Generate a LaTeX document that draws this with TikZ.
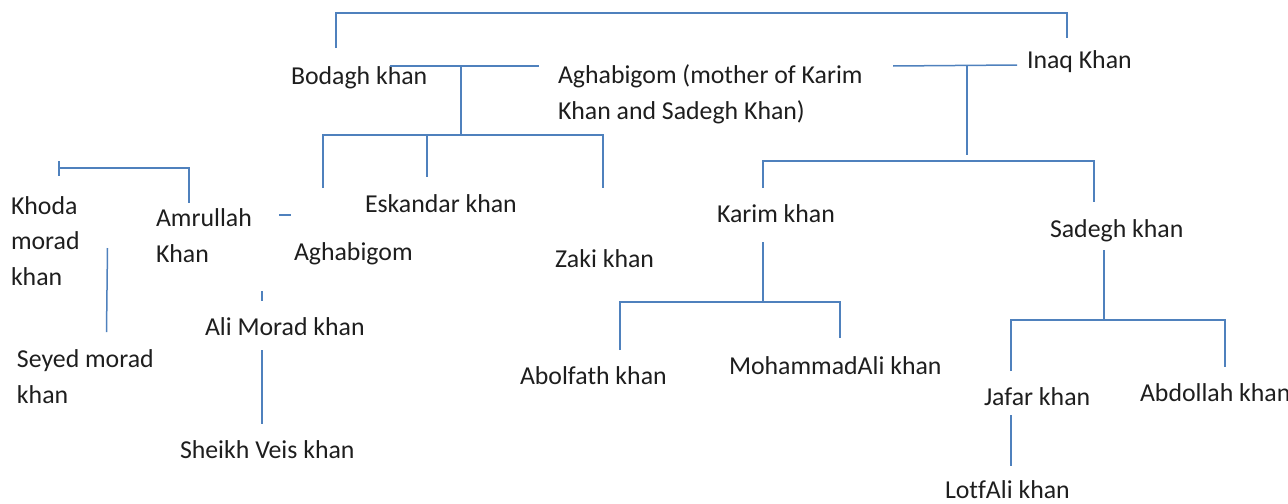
\documentclass[tikz,border=0pt]{standalone}
\usepackage{fontspec}
\setmainfont{Carlito}[Ligatures={NoCommon}]
\definecolor{linkblue}{RGB}{79,129,189}
\definecolor{txt}{RGB}{30,30,30}
\begin{document}
\begin{tikzpicture}[x=0.5pt,y=-0.5pt,
  person/.style={anchor=base west,inner sep=0pt,outer sep=0pt,align=left,text=txt,
    font=\fontsize{12.9}{17.6}\selectfont},
  link/.style={draw=linkblue,line width=0.75pt}]
\useasboundingbox (0,0) rectangle (1288,503);
% people (multi-line nodes: base = last line)
\node[person] (bodagh) at (291,84) {Bodagh khan};
\node[person] (aghamother) at (558,119) {Aghabigom (mother of Karim\\Khan and Sadegh Khan)};
\node[person] (inaq) at (1027,68) {Inaq Khan};
\node[person] (khoda) at (11,285) {Khoda\\morad\\khan};
\node[person] (amrullah) at (156,262) {Amrullah\\Khan};
\node[person] (aghabigom) at (294,260) {Aghabigom};
\node[person] (eskandar) at (365,212) {Eskandar khan};
\node[person] (zaki) at (555,267) {Zaki khan};
\node[person] (karim) at (717,222) {Karim khan};
\node[person] (sadegh) at (1050,237) {Sadegh khan};
\node[person] (alimorad) at (205,335) {Ali Morad khan};
\node[person] (seyed) at (17,403) {Seyed morad\\khan};
\node[person] (sheikh) at (180,458) {Sheikh Veis khan};
\node[person] (abolfath) at (520,384) {Abolfath khan};
\node[person] (mohammadali) at (729,374) {MohammadAli khan};
\node[person] (jafar) at (984,405) {Jafar khan};
\node[person] (abdollah) at (1140,401) {Abdollah khan};
\node[person] (lotfali) at (945,498) {LotfAli khan};
% top bracket
\coordinate (tl) at (336,13); \coordinate (tr) at (1067,13);
\coordinate (tlb) at (336,48); \coordinate (trb) at (1067,38);
\draw[link] (tlb) -- (tl) -- (tr) -- (trb);
% Bodagh + Aghabigom marriage
\coordinate (m1a) at (390,66); \coordinate (m1b) at (539,66); \coordinate (m1c) at (461,66);
\coordinate (m1d) at (461,135);
\draw[link] (m1a) -- (m1b);
\draw[link] (m1c) -- (m1d);
\coordinate (c1l) at (323,135); \coordinate (c1r) at (603,135);
\coordinate (c1lb) at (323,188); \coordinate (c1rb) at (603,188);
\coordinate (c1m) at (427,135); \coordinate (c1mb) at (427,177);
\draw[link] (c1lb) -- (c1l) -- (c1r) -- (c1rb);
\draw[link] (c1m) -- (c1mb);
% Aghabigom + Inaq marriage
\coordinate (m2a) at (893,66); \coordinate (m2b) at (1017,65); \coordinate (m2c) at (967,65.5);
\coordinate (m2d) at (967,155);
\draw[link] (m2a) -- (m2b);
\draw[link] (m2c) -- (m2d);
\coordinate (c2l) at (763,161); \coordinate (c2r) at (1094,161);
\coordinate (c2lb) at (763,188); \coordinate (c2rb) at (1094,202);
\draw[link] (c2lb) -- (c2l) -- (c2r) -- (c2rb);
% Karim's children
\coordinate (k1) at (763,242); \coordinate (k2) at (763,302);
\draw[link] (k1) -- (k2);
\coordinate (k3) at (620,302); \coordinate (k4) at (840,302);
\coordinate (k3b) at (620,350); \coordinate (k4b) at (840,338);
\draw[link] (k3b) -- (k3) -- (k4) -- (k4b);
% Sadegh's children
\coordinate (s1) at (1104,250); \coordinate (s2) at (1104,320);
\draw[link] (s1) -- (s2);
\coordinate (s3) at (1011,320); \coordinate (s4) at (1225,320);
\coordinate (s3b) at (1011,371); \coordinate (s4b) at (1225,367);
\draw[link] (s3b) -- (s3) -- (s4) -- (s4b);
\coordinate (j1) at (1011,415); \coordinate (j2) at (1011,466);
\draw[link] (j1) -- (j2);
% left branch
\coordinate (l1) at (59,168); \coordinate (l2) at (189,168);
\coordinate (l1t) at (59,161); \coordinate (l1b) at (59,176);
\coordinate (l2b) at (189,203);
\draw[link] (l1) -- (l2) -- (l2b);
\draw[link] (l1t) -- (l1b);
\coordinate (d1) at (279,215); \coordinate (d2) at (291,215);
\draw[link] (d1) -- (d2);
\coordinate (v1) at (107.5,248); \coordinate (v2) at (106.5,332);
\draw[link] (v1) -- (v2);
\coordinate (a1) at (262,291); \coordinate (a2) at (262,301);
\draw[link] (a1) -- (a2);
\coordinate (a3) at (262,350); \coordinate (a4) at (262,424);
\draw[link] (a3) -- (a4);
\end{tikzpicture}
\end{document}
